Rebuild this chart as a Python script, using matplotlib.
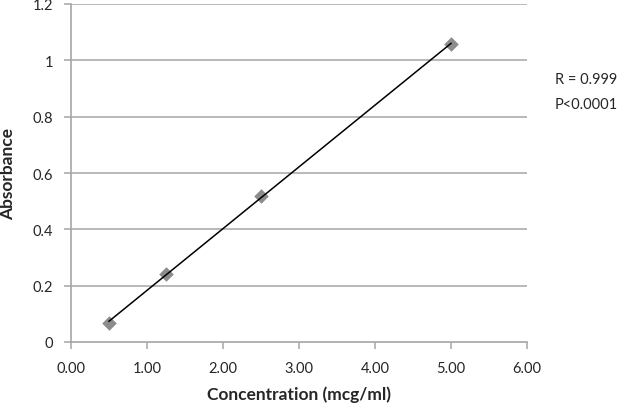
import numpy as np
import matplotlib
matplotlib.use("Agg")
import matplotlib.pyplot as plt

plt.rcParams['font.family'] = ['Lato', 'DejaVu Sans']

conc = [0.5, 1.25, 2.5, 5.0]
absorb = [0.068, 0.241, 0.518, 1.057]
xticks = [0, 1, 2, 3, 4, 5, 6]
xticklabels = ["0.00", "1.00", "2.00", "3.00", "4.00", "5.00", "6.00"]
yticks = [0, 0.2, 0.4, 0.6, 0.8, 1.0, 1.2]
yticklabels = ["0", "0.2", "0.4", "0.6", "0.8", "1", "1.2"]

fig = plt.figure(figsize=(6.18, 4.06), dpi=100)
ax = fig.add_axes([71/618, 1-343/406, 456/618, 338/406])

grid_c = '#a6a6a6'
for y in yticks[1:]:
    ax.axhline(y, color=grid_c, lw=1.1, zorder=1)

ax.scatter(conc, absorb, marker='D', s=55, color='#8c8c8c', zorder=2, linewidths=0)
k, b = np.polyfit(conc, absorb, 1)
xs = np.array([min(conc), max(conc)])
ax.plot(xs, k*xs + b, color='black', lw=1.1, zorder=3)

ax.set_xlim(0, 6)
ax.set_ylim(0, 1.2)
ax.set_xticks(xticks)
ax.set_xticklabels(xticklabels)
ax.set_yticks(yticks)
ax.set_yticklabels(yticklabels)
for s in ['top', 'right']:
    ax.spines[s].set_visible(False)
for s in ['left', 'bottom']:
    ax.spines[s].set_color(grid_c)
    ax.spines[s].set_linewidth(1.2)
ax.tick_params(axis='both', colors=grid_c, length=5, width=1.1, labelsize=10.5, labelcolor='#262626')
ax.tick_params(axis='x', pad=9)
ax.tick_params(axis='y', pad=8)

ax.set_xlabel("Concentration (mcg/ml)", fontsize=12.5, fontweight='bold', color='#262626', va='center')
ax.set_ylabel("Absorbance", fontsize=12.5, fontweight='bold', color='#262626', va='center')
ax.xaxis.set_label_coords(0.5, -(395-343)/338)
ax.yaxis.set_label_coords(-(71-8)/456, 0.5)

fig.text(555/618, 1-80/406, "R = 0.999", fontsize=10.5, va='center', ha='left', color='#262626')
fig.text(555/618, 1-105/406, "P<0.0001", fontsize=10.5, va='center', ha='left', color='#262626')

fig.savefig("out.png", dpi=100)
